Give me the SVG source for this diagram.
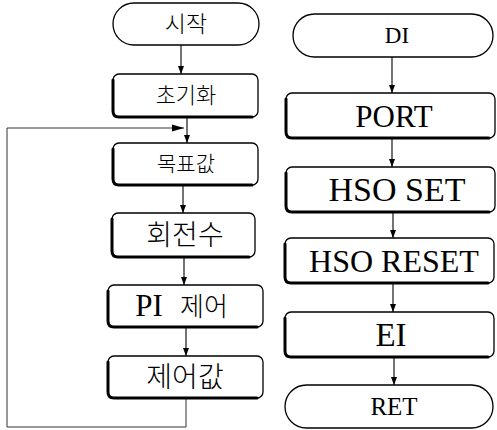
<svg xmlns="http://www.w3.org/2000/svg" width="497" height="430" viewBox="0 0 497 430">
<style>
.box{fill:#fff;stroke:#000;stroke-width:1.3}
.sh{fill:none;stroke:#000;stroke-width:3;stroke-linecap:round}
.term{fill:#fff;stroke:#000;stroke-width:1.3}
.ko{font-family:"Noto Sans CJK KR","Noto Sans",sans-serif;font-weight:300;text-anchor:middle;fill:#000}
.en{font-family:"Liberation Serif","DejaVu Serif","Noto Serif",serif;text-anchor:middle;fill:#000}
.c{fill:none;stroke:#000;stroke-width:1.1}
.fb{fill:none;stroke:#333;stroke-width:1}
</style>
<defs>
<marker id="ah" viewBox="0 0 8 8" refX="8" refY="4" markerWidth="8" markerHeight="8" markerUnits="userSpaceOnUse" orient="auto">
<path d="M0,1 L8,4 L0,7 Z" fill="#000"/>
</marker>
<marker id="ah2" viewBox="0 0 12 8" refX="12" refY="4" markerWidth="12" markerHeight="8" markerUnits="userSpaceOnUse" orient="auto">
<path d="M0,0.5 L12,4 L0,7.5 Z" fill="#000"/>
</marker>
</defs>

<g id="connectors">
<path class="c" d="M181 45 V74" marker-end="url(#ah)"/>
<path class="c" d="M187 117 V143" marker-end="url(#ah)"/>
<path class="c" d="M183 185 V213" marker-end="url(#ah)"/>
<path class="c" d="M184 257 V285" marker-end="url(#ah)"/>
<path class="c" d="M186 327 V356" marker-end="url(#ah)"/>
<path class="fb" d="M186 398 V427 H7 V128 H184" marker-end="url(#ah2)"/>
<path class="c" d="M392 57 V93" marker-end="url(#ah)"/>
<path class="c" d="M392 138 V167" marker-end="url(#ah)"/>
<path class="c" d="M393 212 V238" marker-end="url(#ah)"/>
<path class="c" d="M393 283 V312" marker-end="url(#ah)"/>
<path class="c" d="M394 357 V385" marker-end="url(#ah)"/>
</g>

<g id="start">
<rect class="term" x="113" y="3" width="146" height="42" rx="21"/>
<text class="ko" x="186" y="32" font-size="23">시작</text>
</g>
<g id="init">
<rect class="box" x="113" y="74" width="145" height="43" rx="6"/>
<path class="sh" d="M113 80 V111 Q113 117 119 117 H252"/>
<text class="ko" x="186" y="103" font-size="22">초기화</text>
</g>
<g id="target">
<rect class="box" x="113" y="143" width="145" height="42" rx="6"/>
<path class="sh" d="M113 149 V179 Q113 185 119 185 H252"/>
<text class="ko" x="186" y="171" font-size="21">목표값</text>
</g>
<g id="rpm">
<rect class="box" x="112" y="213" width="143" height="44" rx="6"/>
<path class="sh" d="M112 219 V251 Q112 257 118 257 H249"/>
<text class="ko" x="185" y="245" font-size="28">회전수</text>
</g>
<g id="pi">
<rect class="box" x="108" y="285" width="155" height="42" rx="6"/>
<path class="sh" d="M108 291 V321 Q108 327 114 327 H257"/>
<text class="en" x="149" y="316" font-size="31">PI</text>
<text class="ko" x="204" y="316" font-size="26">제어</text>
</g>
<g id="ctrlval">
<rect class="box" x="108" y="356" width="155" height="42" rx="6"/>
<path class="sh" d="M108 362 V392 Q108 398 114 398 H257"/>
<text class="ko" x="185" y="387" font-size="28">제어값</text>
</g>

<g id="di">
<rect class="term" x="293" y="14" width="200" height="43" rx="21.5"/>
<text class="en" x="397" y="43" font-size="23">DI</text>
</g>
<g id="port">
<rect class="box" x="286" y="93" width="209" height="45" rx="6"/>
<path class="sh" d="M286 99 V132 Q286 138 292 138 H489"/>
<text class="en" x="394" y="127" font-size="31">PORT</text>
</g>
<g id="hsoset">
<rect class="box" x="286" y="167" width="209" height="45" rx="6"/>
<path class="sh" d="M286 173 V206 Q286 212 292 212 H489"/>
<text class="en" x="397" y="201" font-size="34">HSO SET</text>
</g>
<g id="hsoreset">
<rect class="box" x="285" y="238" width="209" height="45" rx="6"/>
<path class="sh" d="M285 244 V277 Q285 283 291 283 H488"/>
<text class="en" x="394" y="272" font-size="32">HSO RESET</text>
</g>
<g id="ei">
<rect class="box" x="285" y="312" width="209" height="45" rx="6"/>
<path class="sh" d="M285 318 V351 Q285 357 291 357 H488"/>
<text class="en" x="391" y="346" font-size="33">EI</text>
</g>
<g id="ret">
<rect class="term" x="285" y="385" width="208" height="43" rx="21.5"/>
<text class="en" x="394" y="415" font-size="25">RET</text>
</g>
</svg>
